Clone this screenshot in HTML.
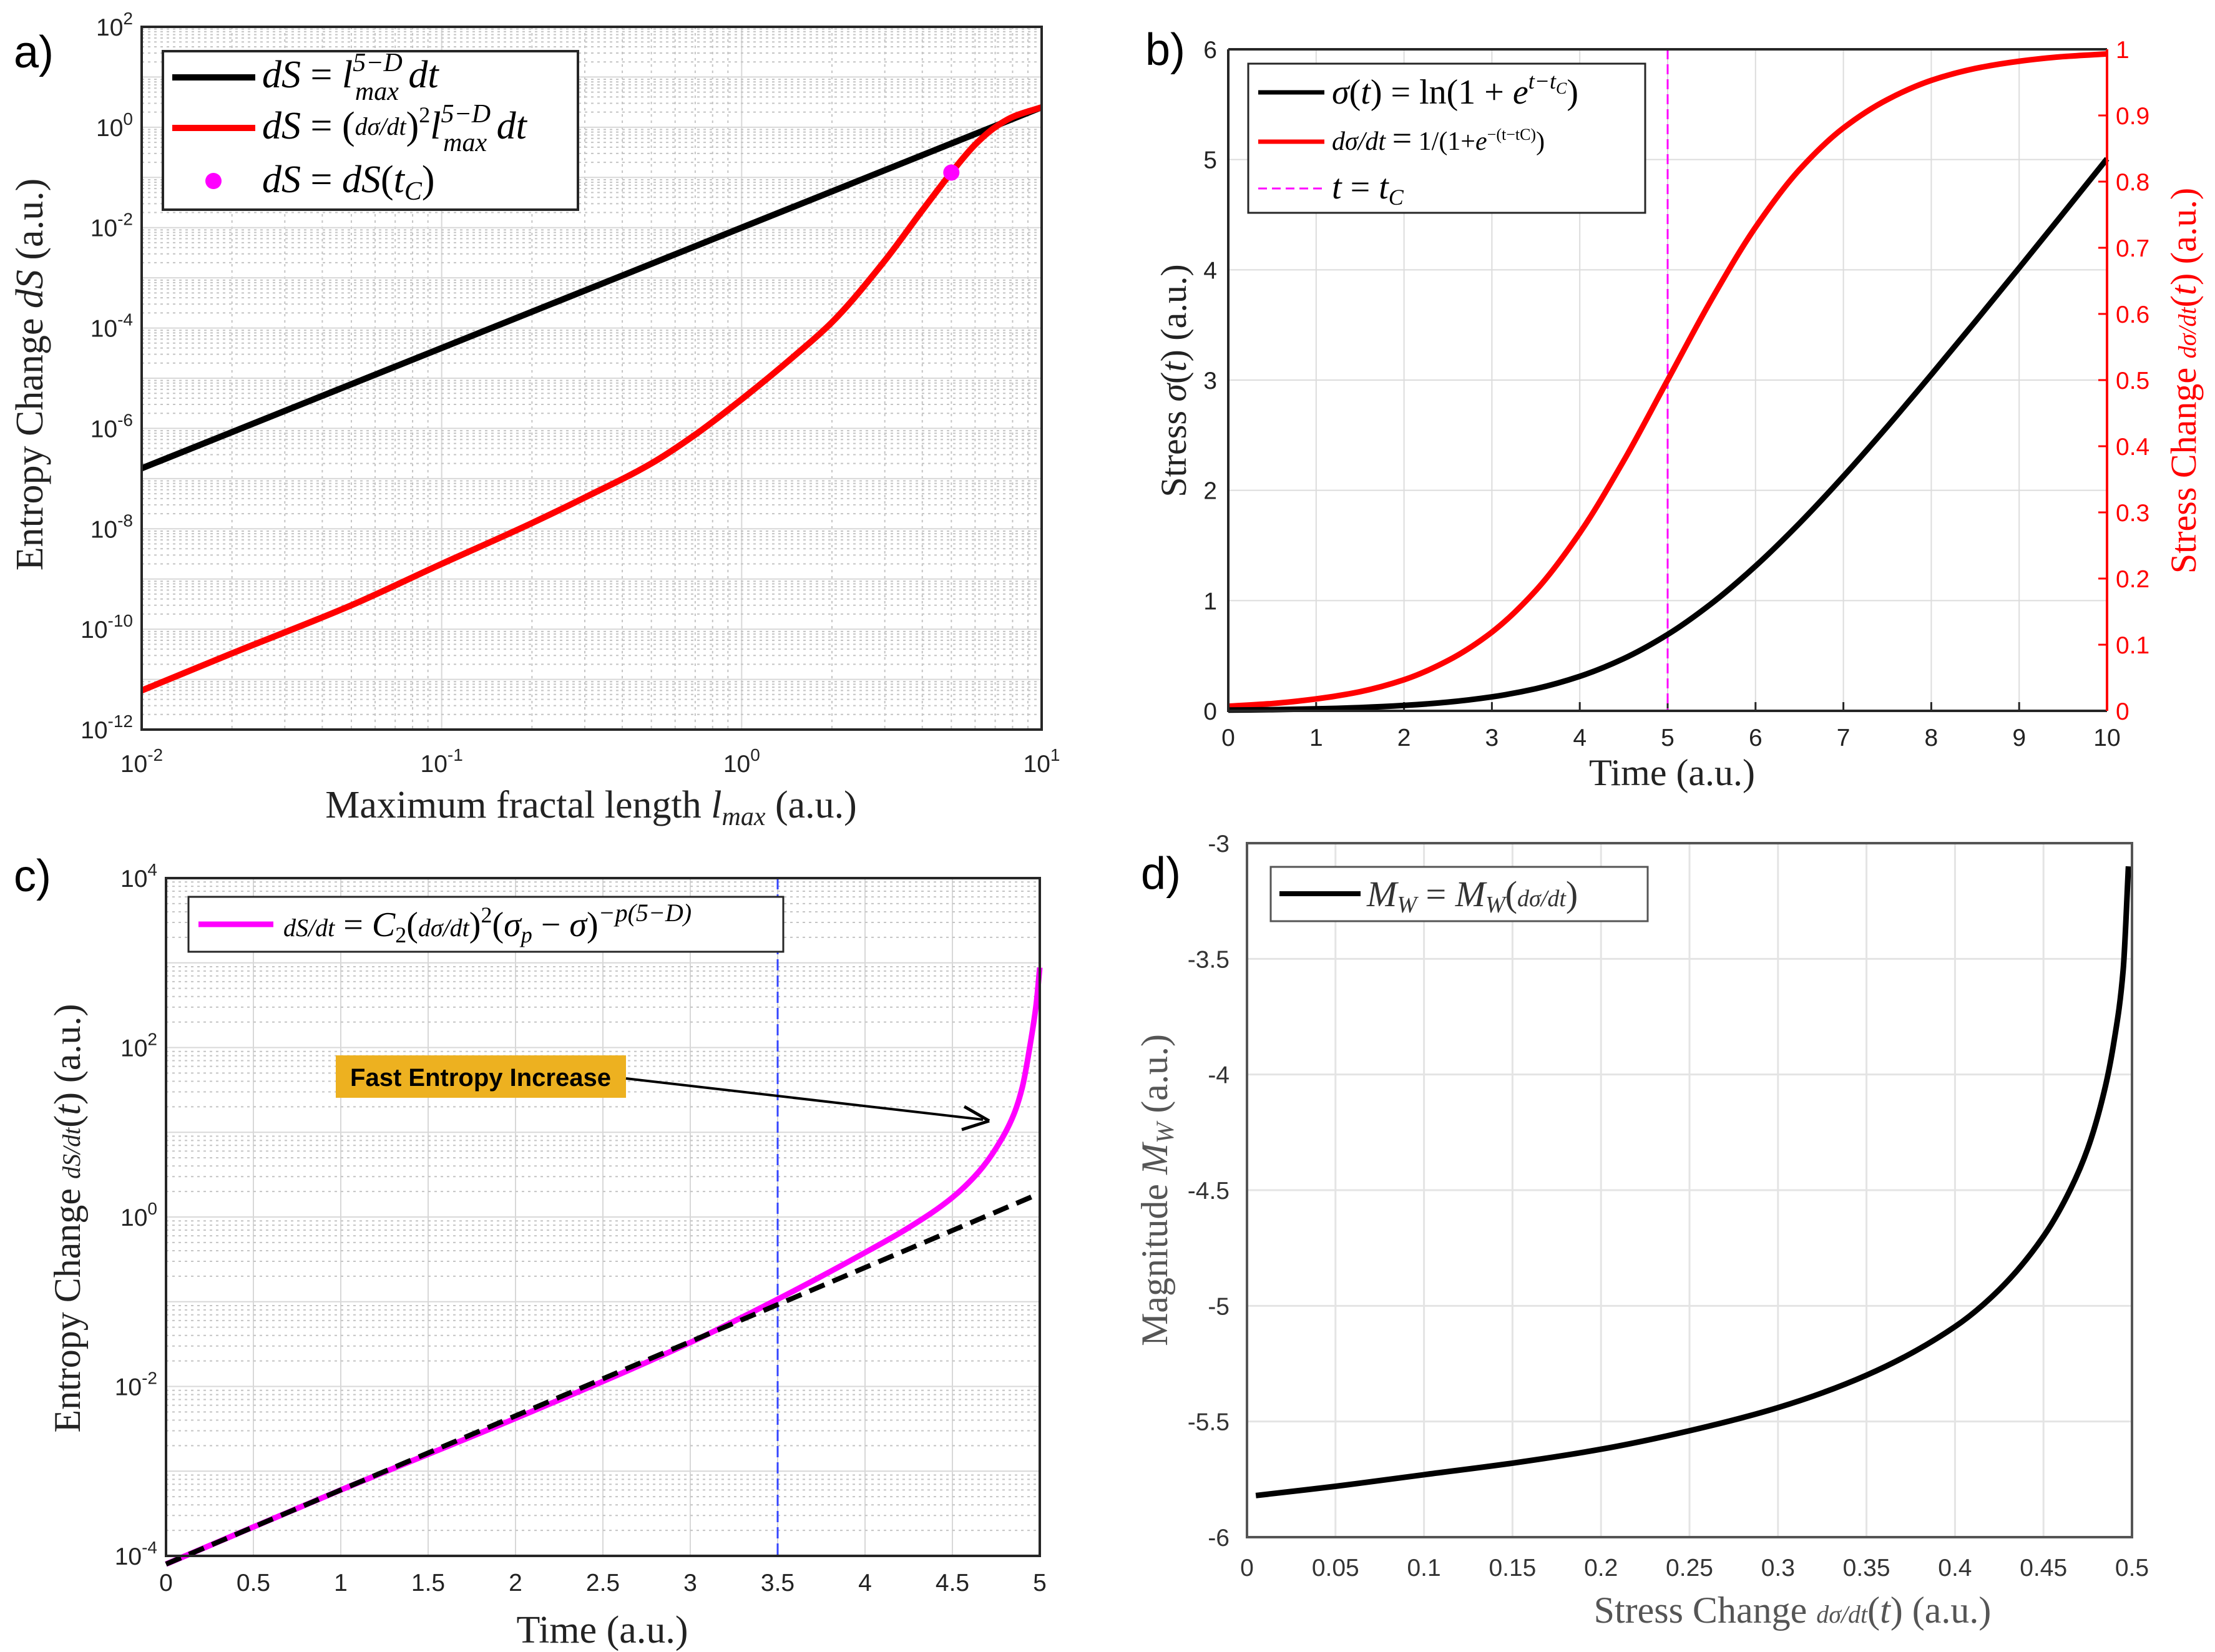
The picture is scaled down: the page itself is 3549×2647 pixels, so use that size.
<!DOCTYPE html>
<html><head><meta charset="utf-8">
<style>
html,body{margin:0;padding:0;background:#fff;}
svg{display:block;}
.tk{font-family:"Liberation Sans",sans-serif;font-size:39px;fill:#222;}
.ser{font-family:"Liberation Serif",serif;}
.it{font-style:italic;}
</style></head>
<body>
<svg id="fig" xmlns="http://www.w3.org/2000/svg" width="3549" height="2647" viewBox="0 0 3549 2647">
<rect x="0" y="0" width="3549" height="2647" fill="#fff"/>
<g id="gA"></g>
<g id="gB"></g>
<g id="gC"></g>
<g id="gD"></g>

<text x="22" y="108" font-family="Liberation Sans,sans-serif" font-size="72">a)</text>
<text x="1835" y="104" font-family="Liberation Sans,sans-serif" font-size="72">b)</text>
<text x="22" y="1428" font-family="Liberation Sans,sans-serif" font-size="72">c)</text>
<text x="1828" y="1424" font-family="Liberation Sans,sans-serif" font-size="72">d)</text>

<text class="ser" font-size="62" fill="#222" text-anchor="middle" transform="translate(68,600) rotate(-90)">Entropy Change <tspan class="it">dS</tspan> (a.u.)</text>
<text class="ser" font-size="62" fill="#222" text-anchor="middle" x="947" y="1310">Maximum fractal length <tspan class="it">l</tspan><tspan class="it" font-size="42" dy="12">max</tspan><tspan dy="-12"> (a.u.)</tspan></text>

<text class="ser" font-size="58" fill="#222" text-anchor="middle" transform="translate(1900,610) rotate(-90)">Stress <tspan class="it">σ</tspan>(<tspan class="it">t</tspan>) (a.u.)</text>
<text class="ser" font-size="58" fill="#f00" text-anchor="middle" transform="translate(3518,610) rotate(-90)">Stress Change <tspan class="it" font-size="40">dσ/dt</tspan>(<tspan class="it">t</tspan>) (a.u.)</text>
<text class="ser" font-size="60" fill="#222" text-anchor="middle" x="2679" y="1258">Time (a.u.)</text>

<text class="ser" font-size="60" fill="#222" text-anchor="middle" transform="translate(128,1952) rotate(-90)">Entropy Change <tspan class="it" font-size="40">dS/dt</tspan>(<tspan class="it">t</tspan>) (a.u.)</text>
<text class="ser" font-size="62" fill="#222" text-anchor="middle" x="965" y="2632">Time (a.u.)</text>

<text class="ser" font-size="60" fill="#555" text-anchor="middle" transform="translate(1870,1907) rotate(-90)">Magnitude <tspan class="it">M</tspan><tspan class="it" font-size="40" dy="10">W</tspan><tspan dy="-10"> (a.u.)</tspan></text>
<text class="ser" font-size="60" fill="#555" text-anchor="middle" x="2872" y="2600">Stress Change <tspan class="it" font-size="40">dσ/dt</tspan>(<tspan class="it">t</tspan>) (a.u.)</text>

<g>
<rect x="261" y="82" width="665" height="254" fill="#fff" stroke="#262626" stroke-width="4"/>
<line x1="276" y1="124" x2="409" y2="124" stroke="#000" stroke-width="10"/>
<text class="ser it" font-size="62" x="420" y="140">dS <tspan font-style="normal">=</tspan> l<tspan font-size="42" dy="-26">5−D</tspan><tspan font-size="42" dx="-76" dy="46">max</tspan><tspan dy="-20"> dt</tspan></text>
<line x1="276" y1="205" x2="409" y2="205" stroke="#f00" stroke-width="10"/>
<text class="ser it" font-size="62" x="420" y="222">dS <tspan font-style="normal">= (</tspan><tspan font-size="40" dy="-6">dσ/dt</tspan><tspan font-style="normal" dy="6">)</tspan><tspan font-size="36" dy="-26" font-style="normal">2</tspan><tspan dy="26">l</tspan><tspan font-size="42" dy="-26">5−D</tspan><tspan font-size="42" dx="-76" dy="46">max</tspan><tspan dy="-20"> dt</tspan></text>
<circle cx="342" cy="290" r="13" fill="#f0f"/>
<text class="ser it" font-size="62" x="420" y="308">dS <tspan font-style="normal">=</tspan> dS<tspan font-style="normal">(</tspan>t<tspan font-size="42" dy="12">C</tspan><tspan font-style="normal" dy="-12">)</tspan></text>
</g>

<g>
<rect x="2000" y="102" width="636" height="239" fill="#fff" stroke="#262626" stroke-width="3"/>
<line x1="2016" y1="148" x2="2122" y2="148" stroke="#000" stroke-width="7"/>
<text class="ser" font-size="56" x="2134" y="166"><tspan class="it">σ</tspan>(<tspan class="it">t</tspan>) = ln(1 + <tspan class="it">e</tspan><tspan class="it" font-size="36" dy="-24">t−t</tspan><tspan class="it" font-size="26" dy="8">C</tspan><tspan dy="16">)</tspan></text>
<line x1="2016" y1="227" x2="2122" y2="227" stroke="#f00" stroke-width="7"/>
<text class="ser" font-size="42" x="2134" y="240"><tspan class="it">dσ/dt</tspan> <tspan font-size="56">=</tspan> 1/(1+<tspan class="it">e</tspan><tspan font-size="26" dy="-16">−(t−tC)</tspan><tspan dy="16">)</tspan></text>
<line x1="2016" y1="302" x2="2122" y2="302" stroke="#f0f" stroke-width="3" stroke-dasharray="14,8"/>
<text class="ser it" font-size="56" x="2134" y="318">t <tspan font-style="normal">=</tspan> t<tspan font-size="36" dy="10">C</tspan></text>
</g>

<g>
<rect x="302" y="1437" width="953" height="88" fill="#fff" stroke="#262626" stroke-width="3"/>
<line x1="318" y1="1481" x2="438" y2="1481" stroke="#f0f" stroke-width="9"/>
<text class="ser" font-size="56" x="454" y="1500"><tspan class="it" font-size="40">dS/dt</tspan> = <tspan class="it">C</tspan><tspan font-size="36" dy="10">2</tspan><tspan dy="-10">(</tspan><tspan class="it" font-size="40">dσ/dt</tspan>)<tspan font-size="36" dy="-22">2</tspan><tspan dy="22">(</tspan><tspan class="it">σ</tspan><tspan class="it" font-size="36" dy="10">p</tspan><tspan dy="-10"> − </tspan><tspan class="it">σ</tspan>)<tspan class="it" font-size="40" dy="-24">−p(5−D)</tspan></text>
</g>

<g>
<rect x="2036" y="1389" width="604" height="87" fill="#fff" stroke="#555" stroke-width="3"/>
<line x1="2050" y1="1432" x2="2180" y2="1432" stroke="#000" stroke-width="8"/>
<text class="ser" font-size="58" x="2190" y="1452" fill="#333"><tspan class="it">M</tspan><tspan class="it" font-size="38" dy="10">W</tspan><tspan dy="-10"> = </tspan><tspan class="it">M</tspan><tspan class="it" font-size="38" dy="10">W</tspan><tspan dy="-10">(</tspan><tspan class="it" font-size="38">dσ/dt</tspan>)</text>
</g>

<g>
<rect x="538" y="1691" width="465" height="68" fill="#EDB120"/>
<text x="770" y="1740" text-anchor="middle" font-family="Liberation Sans,sans-serif" font-weight="bold" font-size="40" fill="#000">Fast Entropy Increase</text>
<line x1="1003" y1="1728" x2="1575" y2="1794" stroke="#000" stroke-width="4"/>
<path d="M1585,1796 L1545,1773 M1585,1796 L1541,1810" stroke="#000" stroke-width="5" fill="none"/>
</g>
</svg>

<script>
// ---------- Panel a data ----------
const aBlackX = [0.01,10];
const aBlack = [1.6e-7,2.5];
const aLmax = [0.01,0.02,0.05,0.1,0.2,0.3,0.5,0.7,1,1.5,2,3,4,5,6,7,8,10];
const aRed = [6e-12,3.3e-11,3e-10,2e-9,1.3e-8,4.2e-8,2e-7,7.5e-7,3.8e-6,2.8e-5,1.3e-4,2.2e-3,2.2e-2,1.25e-1,4.5e-1,1.0,1.6,2.5];
const aDotX = [5];
const aDotY = [0.125];
const aXTickExp = [-2,-1,0,1];
const aYTickExp = [-12,-10,-8,-6,-4,-2,0,2];
// ---------- Panel b data ----------
const bTime = [0,0.5,1,1.5,2,2.5,3,3.5,4,4.5,5,5.5,6,6.5,7,7.5,8,8.5,9,9.5,10];
const bStress = [0.007,0.011,0.018,0.030,0.049,0.079,0.127,0.201,0.313,0.474,0.693,0.974,1.313,1.701,2.127,2.579,3.049,3.530,4.018,4.511,5.007];
const bRate = [0.007,0.011,0.018,0.029,0.047,0.076,0.119,0.182,0.269,0.378,0.5,0.622,0.731,0.818,0.881,0.924,0.953,0.971,0.982,0.989,0.993];
const bTc = [5];
const bXTicks = [0,1,2,3,4,5,6,7,8,9,10];
const bYTicks = [0,1,2,3,4,5,6];
const bY2Ticks = [0,0.1,0.2,0.3,0.4,0.5,0.6,0.7,0.8,0.9,1];
// ---------- Panel c data ----------
const cTime = [0,1,2,3,3.5,4,4.25,4.5,4.65,4.75,4.85,4.9,4.95,4.98,5.0];
const cRate = [8e-5,6e-4,4.2e-3,3.3e-2,1.07e-1,3.8e-1,7.5e-1,1.7,3.4,6.5,16,34,125,330,880];
const cRefTime = [0,5];
const cRefRate = [8e-5,1.9];
const cMarkT = [3.5];
const cXTicks = [0,0.5,1,1.5,2,2.5,3,3.5,4,4.5,5];
const cYTickExp = [-4,-2,0,2,4];
// ---------- Panel d data ----------
const dRate = [0.005,0.05,0.1,0.15,0.2,0.25,0.3,0.35,0.4,0.425,0.45,0.465,0.475,0.485,0.49,0.495,0.498];
const dMag = [-5.82,-5.78,-5.73,-5.68,-5.62,-5.54,-5.44,-5.30,-5.09,-4.93,-4.70,-4.50,-4.32,-4.05,-3.85,-3.55,-3.10];
const dXTicks = [0,0.05,0.1,0.15,0.2,0.25,0.3,0.35,0.4,0.45,0.5];
const dYTicks = [-6,-5.5,-5,-4.5,-4,-3.5,-3];

const NS = 'http://www.w3.org/2000/svg';
function mk(tag, attrs, parent){
  const e = document.createElementNS(NS, tag);
  for (const k in attrs) e.setAttribute(k, attrs[k]);
  parent.appendChild(e);
  return e;
}
function linS(d0,d1,r0,r1){return v=>r0+(v-d0)/(d1-d0)*(r1-r0);}
function logS(d0,d1,r0,r1){return v=>r0+(Math.log10(v)-Math.log10(d0))/(Math.log10(d1)-Math.log10(d0))*(r1-r0);}
function smoothPath(pts){
  const n=pts.length;
  let d='M'+pts[0][0].toFixed(1)+','+pts[0][1].toFixed(1);
  if(n<3){for(let i=1;i<n;i++) d+='L'+pts[i][0].toFixed(1)+','+pts[i][1].toFixed(1);return d;}
  const h=[],s=[];
  for(let i=0;i<n-1;i++){h.push(pts[i+1][0]-pts[i][0]);s.push((pts[i+1][1]-pts[i][1])/h[i]);}
  const m=new Array(n);
  m[0]=s[0];m[n-1]=s[n-2];
  for(let i=1;i<n-1;i++){
    if(s[i-1]*s[i]<=0) m[i]=0;
    else {const w1=2*h[i]+h[i-1],w2=h[i]+2*h[i-1];m[i]=(w1+w2)/(w1/s[i-1]+w2/s[i]);}
  }
  for(let i=0;i<n-1;i++){
    const p1=pts[i],p2=pts[i+1],hh=h[i];
    d+='C'+(p1[0]+hh/3).toFixed(1)+','+(p1[1]+m[i]*hh/3).toFixed(1)+' '+(p2[0]-hh/3).toFixed(1)+','+(p2[1]-m[i+1]*hh/3).toFixed(1)+' '+p2[0].toFixed(1)+','+p2[1].toFixed(1);
  }
  return d;
}
function powLabel(g,x,y,exp,anchor){
  const t=mk('text',{x:x,y:y,'text-anchor':anchor,class:'tk'},g);
  
  
  t.textContent='10';
  const s=mk('tspan',{dy:-18,'font-size':28},t);
  s.textContent=String(exp);
}
function logGridX(g,sx,lo,hi,T,B){
  for(let e=lo;e<hi;e++){for(let k=2;k<=9;k++){const x=sx(k*Math.pow(10,e));
    const l=mk('line',{x1:x,x2:x,y1:T,y2:B,stroke:'#c4c4c4','stroke-width':2,'stroke-dasharray':'4,6'},g);
    
    }}
}
function logGridY(g,sy,lo,hi,L,R){
  for(let e=lo;e<hi;e++){for(let k=2;k<=9;k++){const y=sy(k*Math.pow(10,e));
    const l=mk('line',{x1:L,x2:R,y1:y,y2:y,stroke:'#c4c4c4','stroke-width':2,'stroke-dasharray':'4,6'},g);
    
    }}
  for(let e=lo;e<=hi;e++){const y=sy(Math.pow(10,e));
    const l=mk('line',{x1:L,x2:R,y1:y,y2:y,stroke:'#d8d8d8','stroke-width':2},g);
    
    }
}
function box(g,L,T,R,B,col){
  const r=mk('rect',{x:L,y:T,width:R-L,height:B-T,fill:'none',stroke:col||'#262626','stroke-width':4},g);
  
  
}

// ===== Panel a =====
(function(){
  const g=document.getElementById('gA');
  const L=227,R=1669,T=43,B=1169;
  const sx=logS(0.01,10,L,R), sy=logS(1e-12,1e2,B,T);
  logGridX(g,sx,-2,1,T,B);
  for(const e of aXTickExp){const x=sx(Math.pow(10,e));
    const l=mk('line',{x1:x,x2:x,y1:T,y2:B,stroke:'#d8d8d8','stroke-width':2},g);
    
    }
  logGridY(g,sy,-12,2,L,R);
  const pb=mk('path',{d:smoothPath(aBlackX.map((v,i)=>[sx(v),sy(aBlack[i])])),fill:'none',stroke:'#000','stroke-width':10},g);
  
  
  const pr=mk('path',{d:smoothPath(aLmax.map((v,i)=>[sx(v),sy(aRed[i])])),fill:'none',stroke:'#f00','stroke-width':10},g);
  
  
  aDotX.forEach((v,i)=>{const c=mk('circle',{cx:sx(v),cy:sy(aDotY[i]),r:13,fill:'#f0f'},g);
    
    });
  box(g,L,T,R,B);
  for(const e of aXTickExp) powLabel(g,sx(Math.pow(10,e)),B+68,e,'middle');
  for(const e of aYTickExp) powLabel(g,L-14,sy(Math.pow(10,e))+14,e,'end');
})();

// ===== Panel b =====
(function(){
  const g=document.getElementById('gB');
  const L=1968,R=3376,T=79,B=1139;
  const sx=linS(0,10,L,R), sy=linS(0,6,B,T), sy2=linS(0,1,B,T);
  for(const v of bXTicks){const x=sx(v);
    const l=mk('line',{x1:x,x2:x,y1:T,y2:B,stroke:'#dcdcdc','stroke-width':2},g);
    
    
    const tk=mk('line',{x1:x,x2:x,y1:B,y2:B-14,stroke:'#262626','stroke-width':3},g);
    
    
    const t=mk('text',{x:x,y:B+56,'text-anchor':'middle',class:'tk'},g);
    
    
    t.textContent=String(v);}
  for(const v of bYTicks){const y=sy(v);
    const l=mk('line',{x1:L,x2:R,y1:y,y2:y,stroke:'#dcdcdc','stroke-width':2},g);
    
    
    const t=mk('text',{x:L-18,y:y+14,'text-anchor':'end',class:'tk'},g);
    
    
    t.textContent=String(v);}
  for(const v of bY2Ticks){const y=sy2(v);
    const tk=mk('line',{x1:R,x2:R-14,y1:y,y2:y,stroke:'#f00','stroke-width':3},g);
    
    
    const t=mk('text',{x:R+14,y:y+14,'text-anchor':'start',class:'tk',style:'fill:#f00'},g);
    
    
    t.textContent=String(v);}
  bTc.forEach(v=>{const vl=mk('line',{x1:sx(v),x2:sx(v),y1:T,y2:B,stroke:'#f0f','stroke-width':3,'stroke-dasharray':'16,8'},g);
    
    });
  const pr=mk('path',{d:smoothPath(bTime.map((v,i)=>[sx(v),sy2(bRate[i])])),fill:'none',stroke:'#f00','stroke-width':9},g);
  
  
  const pb=mk('path',{d:smoothPath(bTime.map((v,i)=>[sx(v),sy(bStress[i])])),fill:'none',stroke:'#000','stroke-width':9},g);
  
  
  const a1=mk('path',{d:`M${L},${T}H${R}M${L},${T}V${B}H${R}`,fill:'none',stroke:'#262626','stroke-width':4},g);
  
  
  const a2=mk('line',{x1:R,x2:R,y1:T,y2:B,stroke:'#f00','stroke-width':4},g);
  
  
})();

// ===== Panel c =====
(function(){
  const g=document.getElementById('gC');
  const L=266,R=1666,T=1407,B=2493;
  const sx=linS(0,5,L,R), sy=logS(1e-4,1e4,B,T);
  for(const v of cXTicks){const x=sx(v);
    const l=mk('line',{x1:x,x2:x,y1:T,y2:B,stroke:'#d8d8d8','stroke-width':2},g);
    
    
    const t=mk('text',{x:x,y:B+56,'text-anchor':'middle',class:'tk'},g);
    
    
    t.textContent=String(v);}
  logGridY(g,sy,-4,4,L,R);
  cMarkT.forEach(v=>{const vl=mk('line',{x1:sx(v),x2:sx(v),y1:T,y2:B,stroke:'#3344ff','stroke-width':3,'stroke-dasharray':'18,8'},g);
    
    });
  const pm=mk('path',{d:smoothPath(cTime.map((v,i)=>[sx(v),sy(cRate[i])])),fill:'none',stroke:'#f0f','stroke-width':9},g);
  
  
  const pd=mk('path',{d:smoothPath(cRefTime.map((v,i)=>[sx(v),sy(cRefRate[i])])),fill:'none',stroke:'#000','stroke-width':8,'stroke-dasharray':'26,14'},g);
  
  
  box(g,L,T,R,B);
  for(const e of cYTickExp) powLabel(g,L-14,sy(Math.pow(10,e))+14,e,'end');
})();

// ===== Panel d =====
(function(){
  const g=document.getElementById('gD');
  const L=1998,R=3416,T=1351,B=2463;
  const sx=linS(0,0.5,L,R), sy=linS(-6,-3,B,T);
  for(const v of dXTicks){const x=sx(v);
    const l=mk('line',{x1:x,x2:x,y1:T,y2:B,stroke:'#e4e4e4','stroke-width':3},g);
    
    
    const t=mk('text',{x:x,y:B+62,'text-anchor':'middle',class:'tk',style:'fill:#333'},g);
    
    
    t.textContent=String(v);}
  for(const v of dYTicks){const y=sy(v);
    const l=mk('line',{x1:L,x2:R,y1:y,y2:y,stroke:'#e4e4e4','stroke-width':3},g);
    
    
    const t=mk('text',{x:L-28,y:y+14,'text-anchor':'end',class:'tk',style:'fill:#333'},g);
    
    
    t.textContent=String(v);}
  const p=mk('path',{d:smoothPath(dRate.map((v,i)=>[sx(v),sy(dMag[i])])),fill:'none',stroke:'#000','stroke-width':9},g);
  
  
  box(g,L,T,R,B,'#555');
})();
</script>
</body></html>
